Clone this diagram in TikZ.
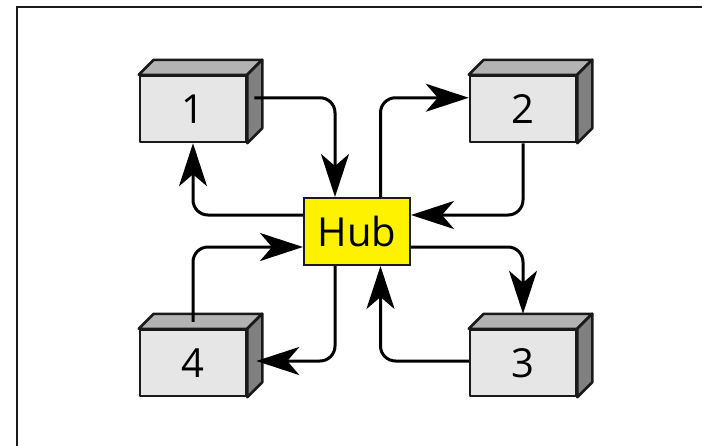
\documentclass[tikz,border=0pt]{standalone}
\usepackage{fontspec}
\setmainfont{Open Sans}
\usetikzlibrary{arrows.meta,calc}
\definecolor{frontgray}{HTML}{E6E6E6}
\definecolor{topgray}{HTML}{B3B3B3}
\definecolor{sidegray}{HTML}{808080}
\definecolor{edgec}{HTML}{1A1A1A}
\tikzset{
  cube/.style={draw=edgec, line width=2.5pt, fill=frontgray, minimum width=106pt, minimum height=66pt, inner sep=0pt, font=\fontsize{40}{40}\selectfont, line join=round},
  topface/.style={draw=edgec, line width=2.5pt, fill=topgray, line join=round},
  sideface/.style={draw=edgec, line width=2.5pt, fill=sidegray, line join=round},
  hubbox/.style={draw=edgec, line width=2pt, fill=yellow, minimum width=106pt, minimum height=67pt, inner sep=0pt, font=\fontsize{40}{40}\selectfont},
  conn/.style={line width=3pt, rounded corners=15pt, -{Stealth[length=43pt,width=28pt,inset=12pt]}},
}
\newcommand{\cubefaces}[1]{%
  \path[topface] (#1.north west) -- ++(15,-15) -- ($(#1.north east)+(15,-15)$) -- (#1.north east) -- cycle;
  \path[sideface] (#1.north east) -- ++(15,-15) -- ($(#1.south east)+(15,-15)$) -- (#1.south east) -- cycle;
}
\begin{document}
\begin{tikzpicture}[x=1pt,y=-1pt]
\useasboundingbox (0,0) rectangle (702,445);
\draw[line width=2pt, draw=edgec] (17,7) rectangle (730,470);
\node[cube] (b1) at (193,109) {1};
\node[cube] (b2) at (523,109) {2};
\node[cube] (b3) at (523,363) {3};
\node[cube] (b4) at (193,363) {4};
\cubefaces{b1}
\cubefaces{b2}
\cubefaces{b3}
\cubefaces{b4}
\node[hubbox] (hub) at (357,231.5) {Hub};
\draw[conn] ($(b1.north east)+(7,23)$) -| ($(hub.north)+(-22,0)$);
\draw[conn] ($(hub.west)+(0,-16.5)$) -| (b1.south);
\draw[conn] ($(hub.north)+(23.5,0)$) |- ($(b2.north west)+(0,23)$);
\draw[conn] (b2.south) |- ($(hub.east)+(0,-16.5)$);
\draw[conn] ($(hub.east)+(0,15.5)$) -| ($(b3.north)+(0,-15)$);
\draw[conn] ($(b3.west)+(0,-2)$) -| ($(hub.south)+(23.5,0)$);
\draw[conn] ($(b4.north)+(0,-7)$) |- ($(hub.west)+(0,15.5)$);
\draw[conn] ($(hub.south)+(-22,0)$) |- ($(b4.east)+(9,-2)$);
\end{tikzpicture}
\end{document}
